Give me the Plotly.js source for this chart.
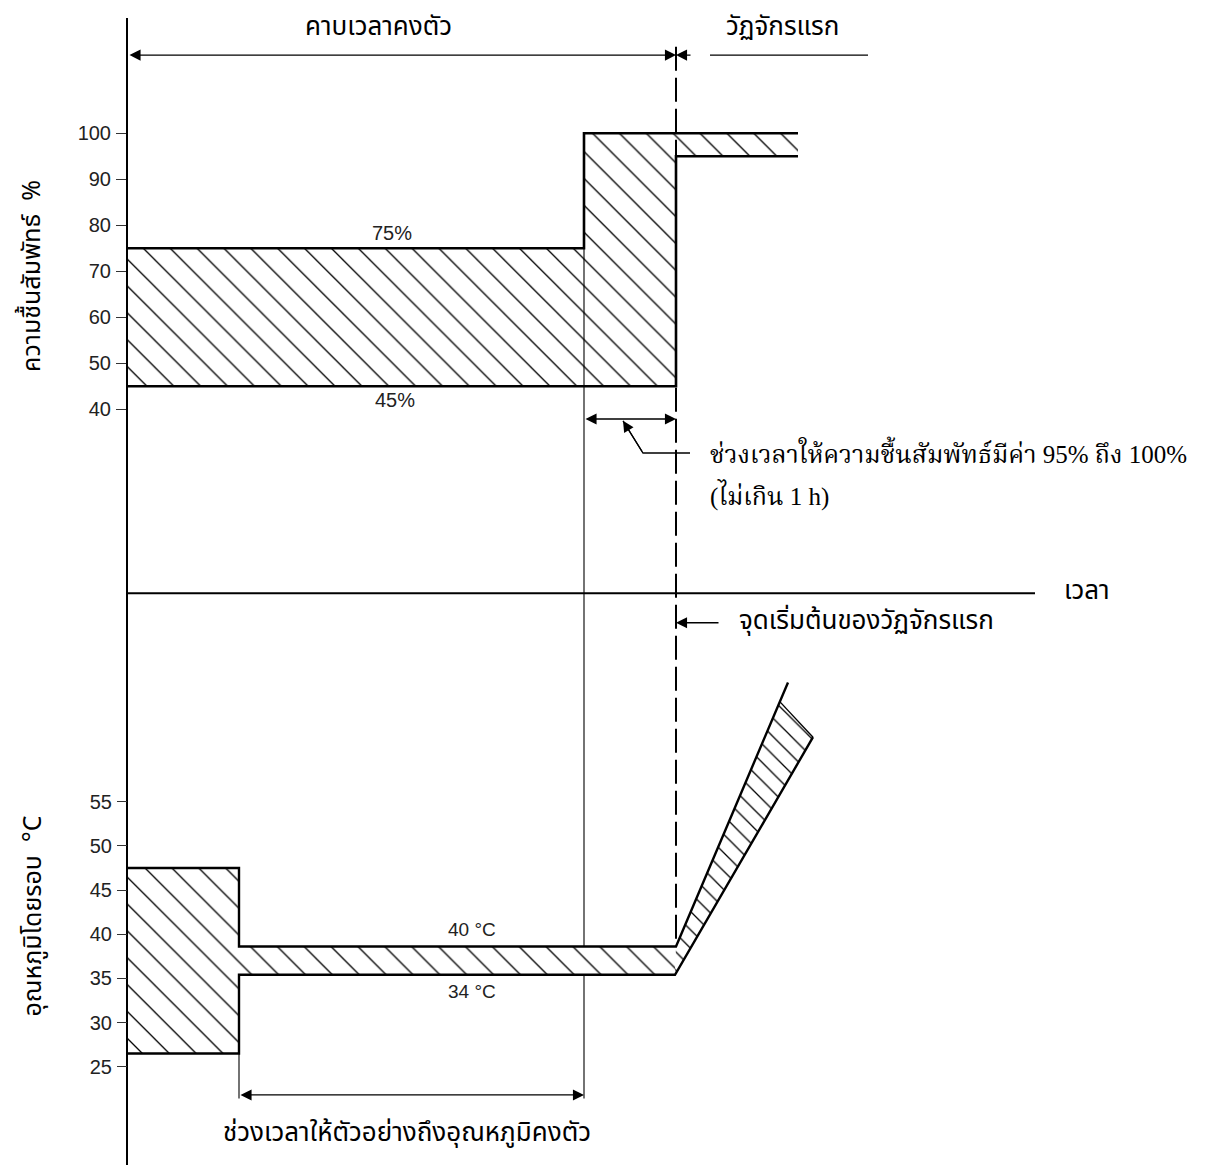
<!DOCTYPE html>
<html>
<head>
<meta charset="utf-8">
<script src="https://cdn.plot.ly/plotly-3.0.1.min.js"></script>
<style>html,body{margin:0;padding:0;background:#fff}#chart{width:1218px;height:1169px}</style>
</head>
<body>
<div id="chart"></div>
<script>
// ---- tick labels ----
const rhTicks = [40, 50, 60, 70, 80, 90, 100];
const tempTicks = [25, 30, 35, 40, 45, 50, 55];

// ---- key times (arbitrary time units) ----
const tTempStep = 1.11;   // sample reaches steady temperature
const tRhStep = 4.56;     // RH goes to 95..100 %
const tCycle = 5.48;      // start of first cycle
const tRhEnd = 6.70;
const tTopEnd = 7.40;
const tTimeEnd = 9.07;

// ---- relative humidity band (%) ----
const rhUpperT = [0, tRhStep, tRhStep, tRhEnd];
const rhUpperV = [75, 75, 100, 100];
const rhLowerT = [0, tCycle, tCycle, tRhEnd];
const rhLowerV = [45, 45, 95, 95];

// ---- ambient temperature band (°C) ----
const tempUpperT = [0, tTempStep, tTempStep, tCycle, 6.60];
const tempUpperV = [47.5, 47.5, 38.6, 38.6, 68.5];
const tempLowerT = [0, tTempStep, tTempStep, 5.47, 6.85];
const tempLowerV = [26.5, 26.5, 35.4, 35.4, 62.3];
const tempCapT = [6.52, 6.85];
const tempCapV = [66.3, 62.3];

// ---- axis ranges ----
const xRange = [0, 10.9];
const rhRange = [-124.28, 125.07];
const tempRange = [13.87, 143.72];
function tempToRh(v) {
  return rhRange[0] + (v - tempRange[0]) / (tempRange[1] - tempRange[0]) * (rhRange[1] - rhRange[0]);
}

const thaiSans = "'Noto Sans Thai', 'Noto Sans Thai UI', 'Loma', 'Garuda', 'Tlwg Typo', 'Kinnari', sans-serif";
const thaiSerif = "'Liberation Serif', 'Noto Serif Thai', 'Noto Sans Thai', 'Norasi', serif";
const latin = "'Liberation Sans', Arial, sans-serif";

const hatch = {shape: '\\', size: 19, solidity: 0.07, fgcolor: '#000', bgcolor: '#fff', fillmode: 'replace'};
const hatchRamp = {shape: '\\', size: 13, solidity: 0.1, fgcolor: '#000', bgcolor: '#fff', fillmode: 'replace'};

function line(x, y, w, extra) {
  return Object.assign({type: 'scatter', mode: 'lines', x: x, y: y,
    line: {color: '#000', width: w}, hoverinfo: 'skip', showlegend: false}, extra || {});
}
function area(x, y, pattern, extra) {
  return Object.assign({type: 'scatter', mode: 'lines', x: x, y: y, fill: 'toself', fillcolor: '#fff',
    fillpattern: pattern, line: {width: 0, color: 'rgba(0,0,0,0)'}, hoverinfo: 'skip', showlegend: false}, extra || {});
}

const rhFillT = rhUpperT.concat(rhLowerT.slice().reverse());
const rhFillV = rhUpperV.concat(rhLowerV.slice().reverse());
const tempBandT = tempUpperT.slice(0, 4).concat(tempLowerT.slice(0, 4).reverse());
const tempBandV = tempUpperV.slice(0, 4).concat(tempLowerV.slice(0, 4).reverse());
const tempRampT = [tempUpperT[3]].concat(tempCapT, [tempLowerT[3]]);
const tempRampV = [tempUpperV[3]].concat(tempCapV, [tempLowerV[3]]);

const traces = [
  // hatched areas
  area(rhFillT, rhFillV, hatch),
  area(tempBandT, tempBandV, hatch, {yaxis: 'y2'}),
  area(tempRampT, tempRampV, hatchRamp, {yaxis: 'y2'}),
  // outlines
  line(rhUpperT, rhUpperV, 2.6),
  line(rhLowerT, rhLowerV, 2.6),
  line(tempUpperT, tempUpperV, 2.4, {yaxis: 'y2'}),
  line(tempLowerT, tempLowerV, 2.4, {yaxis: 'y2'}),
  line(tempCapT, tempCapV, 1.4, {yaxis: 'y2'}),
  // time axis
  line([0, tTimeEnd], [0, 0], 2),
  // thin guide lines
  line([tRhStep, tRhStep], [75, tempToRh(21.4)], 1.1),
  line([tTempStep, tTempStep], [26.5, 21.4], 1.1, {yaxis: 'y2'}),
  // dashed start-of-cycle line
  line([tCycle, tCycle], [118.8, tempToRh(38.6)], 2, {line: {color: '#000', width: 2, dash: '24px,7px'}}),
  // top right line
  line([5.82, tTopEnd], [117.0, 117.0], 1.2),
  // leader line
  line([4.95, 5.15, 5.62], [37.5, 30.5, 30.5], 1.3)
];

function arrow(x, y, ax, ay, yref, both) {
  const a = {x: x, y: y, ax: ax, ay: ay, xref: 'x', yref: yref, axref: 'x', ayref: yref,
    text: '', showarrow: true, arrowhead: 2, arrowsize: 1.7, arrowwidth: 1.3, arrowcolor: '#000',
    standoff: 0, startstandoff: 0};
  if (both) { a.arrowside = 'end+start'; a.startarrowhead = 2; a.startarrowsize = 1.7; }
  return a;
}

function label(text, x, y, yref, font, xanchor, extra) {
  return Object.assign({text: text, x: x, y: y, xref: 'x', yref: yref, showarrow: false,
    xanchor: xanchor || 'center', yanchor: 'middle', font: font}, extra || {});
}

const annotations = [
  arrow(tCycle, 117.0, 0, 117.0, 'y', true),
  arrow(tCycle, 117.0, 5.64, 117.0, 'y', false),
  arrow(tCycle, 37.9, tRhStep, 37.9, 'y', true),
  arrow(4.95, 37.5, 5.15, 30.5, 'y', false),
  arrow(tCycle, -6.4, 5.92, -6.4, 'y', false),
  arrow(tRhStep, 21.8, tTempStep, 21.8, 'y2', true),

  label('คาบเวลาคงตัว', 2.50, 123.1, 'y', {family: thaiSans, size: 26, color: '#000'}),
  label('วัฏจักรแรก', 6.54, 123.1, 'y', {family: thaiSans, size: 26, color: '#000'}),
  label('75%', 2.64, 78.3, 'y', {family: latin, size: 20, color: '#222'}),
  label('45%', 2.67, 42.0, 'y', {family: latin, size: 20, color: '#222'}),
  label('ช่วงเวลาให้ความชื้นสัมพัทธ์มีค่า 95% ถึง 100%', 5.80, 30.7, 'y',
        {family: thaiSerif, size: 25, color: '#000'}, 'left'),
  label('(ไม่เกิน 1 h)', 5.80, 21.4, 'y', {family: thaiSerif, size: 25, color: '#000'}, 'left'),
  label('เวลา', 9.34, 0.5, 'y', {family: thaiSans, size: 26, color: '#000'}, 'left'),
  label('จุดเริ่มต้นของวัฏจักรแรก', 6.09, -6.0, 'y', {family: thaiSans, size: 26, color: '#000'}, 'left'),
  label('40 °C', 3.44, 40.5, 'y2', {family: latin, size: 19, color: '#222'}),
  label('34 °C', 3.44, 33.5, 'y2', {family: latin, size: 19, color: '#222'}),
  label('ช่วงเวลาให้ตัวอย่างถึงอุณหภูมิคงตัว', 2.79, 17.5, 'y2', {family: thaiSans, size: 26, color: '#000'}),
  // axis titles
  {text: 'ความชื้นสัมพัทธ์  %', x: -0.0881, y: 69.0, xref: 'paper', yref: 'y', textangle: -90,
   showarrow: false, xanchor: 'center', yanchor: 'middle', font: {family: thaiSans, size: 25, color: '#000'}},
  {text: 'อุณหภูมิโดยรอบ  °C', x: -0.0872, y: 42.1, xref: 'paper', yref: 'y2', textangle: -90,
   showarrow: false, xanchor: 'center', yanchor: 'middle', font: {family: thaiSans, size: 25, color: '#000'}}
];

const axisCommon = {showgrid: false, zeroline: false, ticks: 'outside', ticklen: 10, tickwidth: 1,
  tickcolor: '#333', tickfont: {family: latin, size: 20, color: '#222'}, ticklabelstandoff: 1, fixedrange: true};

const layout = {
  width: 1218, height: 1169,
  margin: {l: 128, r: 0, t: 18, b: 4, pad: 0},
  paper_bgcolor: '#fff', plot_bgcolor: '#fff',
  showlegend: false,
  xaxis: {range: xRange, visible: false, fixedrange: true},
  yaxis: Object.assign({}, axisCommon, {range: rhRange, tickmode: 'array', tickvals: rhTicks,
    ticktext: rhTicks.map(String), showline: true, linewidth: 2, linecolor: '#000'}),
  yaxis2: Object.assign({}, axisCommon, {range: tempRange, tickmode: 'array', tickvals: tempTicks,
    ticktext: tempTicks.map(String), overlaying: 'y', side: 'left', anchor: 'x', showline: false}),
  annotations: annotations
};

Plotly.newPlot('chart', traces, layout, {displayModeBar: false, staticPlot: true});
</script>
</body>
</html>
